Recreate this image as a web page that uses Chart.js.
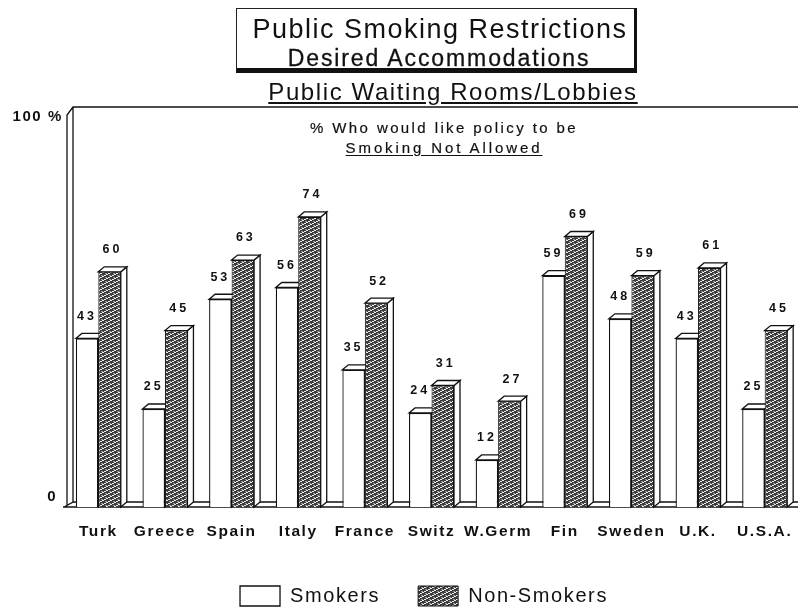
<!DOCTYPE html>
<html>
<head>
<meta charset="utf-8">
<title>Public Smoking Restrictions</title>
<script src="https://cdn.jsdelivr.net/npm/chart.js@4"></script>
<style>
	html, body { margin: 0; background: #fff; }
	#wrap { position: relative; width: 798px; height: 610px; overflow: hidden; font-family: "Liberation Sans", Arial, sans-serif; color: #111; }
	#chart { position: absolute; left: 0; top: 0; }
	.box { position: absolute; left: 236px; top: 8px; width: 397px; height: 59px; border: 1px solid #222; border-bottom: 5px solid #111; border-right: 3px solid #111; }
	.txt { position: absolute; white-space: nowrap; text-align: center; transform: translateX(-50%); }
	.u { text-decoration: underline; text-underline-offset: 2px; }
</style>
</head>
<body>
<div id="wrap">
	<canvas id="chart" width="798" height="610"></canvas>
	<div class="box"></div>
	<div class="txt" style="left:440px;top:14px;font-size:27px;letter-spacing:1.5px">Public Smoking Restrictions</div>
	<div class="txt" style="left:439px;top:45px;font-size:23px;letter-spacing:1.9px;-webkit-text-stroke:0.3px #111">Desired Accommodations</div>
	<div class="txt u" style="left:453px;top:78px;font-size:24px;letter-spacing:1.6px">Public Waiting Rooms/Lobbies</div>
	<div class="txt" style="left:444px;top:119px;font-size:15px;letter-spacing:2.4px;-webkit-text-stroke:0.2px #111">% Who would like policy to be</div>
	<div class="txt u" style="left:444px;top:139px;font-size:15px;letter-spacing:2.9px;-webkit-text-stroke:0.2px #111">Smoking Not Allowed</div>
</div>
<script>
// values
const categories = ["Turk", "Greece", "Spain", "Italy", "France", "Switz", "W.Germ", "Fin", "Sweden", "U.K.", "U.S.A."];
const smokers = [43, 25, 53, 56, 35, 24, 12, 59, 48, 43, 25];
const nonSmokers = [60, 45, 63, 74, 52, 31, 27, 69, 59, 61, 45];
// labels sit a little off the real 0 and 100 in the original
const yTickValues = [2.5, 99.5];
const yTickLabels = ["0 ", "100 %"];

const DEPTH_X = 6;
const DEPTH_Y = 5;
const INK = "#111";

//* Dense diagonal hatch for the non-smokers bars
function makeHatch() {
	const c = document.createElement("canvas");
	c.width = 8;
	c.height = 4;
	const g = c.getContext("2d");
	g.fillStyle = "#3a3a3a";
	g.fillRect(0, 0, 8, 4);
	g.fillStyle = "#eee";
	[[0, 3], [1, 3], [2, 2], [3, 2], [4, 1], [5, 1], [6, 0], [7, 0]].forEach(([x, y]) => g.fillRect(x, y, 1, 1));
	g.fillStyle = "#999";
	[[1, 1], [2, 1], [5, 3], [6, 3]].forEach(([x, y]) => g.fillRect(x, y, 1, 1));
	return document.getElementById("chart").getContext("2d").createPattern(c, "repeat");
}

function poly(ctx, pts) {
	ctx.beginPath();
	pts.forEach(([x, y], i) => (i ? ctx.lineTo(x, y) : ctx.moveTo(x, y)));
	ctx.closePath();
	ctx.fill();
	ctx.stroke();
}

const spacing = {
	id: "spacing",
	beforeLayout(chart) {
		chart.ctx.letterSpacing = "1.6px";
	},
	beforeDraw(chart) {
		chart.ctx.letterSpacing = "1.6px";
	},
	afterLayout(chart) {
		// original legend is off centre and lower
		const shift = 25;
		chart.legend.left += shift;
		chart.legend.right += shift;
		chart.legend.top += 6;
		chart.legend.bottom += 6;
	},
};

//* Back wall, floor and the 3D tops and sides of the bars
const depth = {
	id: "depth",
	beforeDatasetsDraw(chart) {
		const { ctx, chartArea: a } = chart;
		const bx = a.left + 8;
		ctx.save();
		ctx.strokeStyle = INK;
		ctx.lineWidth = 1.3;
		ctx.beginPath();
		ctx.moveTo(a.right, a.top - 8);
		ctx.lineTo(bx, a.top - 8);
		ctx.lineTo(a.left + 2, a.top);
		ctx.lineTo(a.left + 2, a.bottom - 1);
		ctx.moveTo(bx, a.top - 8);
		ctx.lineTo(bx, a.bottom - DEPTH_Y);
		ctx.lineTo(a.left - 1, a.bottom);
		ctx.moveTo(bx, a.bottom - DEPTH_Y);
		ctx.lineTo(a.right, a.bottom - DEPTH_Y);
		ctx.moveTo(a.left - 2, a.bottom);
		ctx.lineTo(a.right, a.bottom);
		ctx.stroke();
		ctx.fillStyle = "#fff";
		chart.data.datasets.forEach((ds, i) => {
			chart.getDatasetMeta(i).data.forEach((bar) => {
				const x0 = bar.x - bar.width / 2;
				const x1 = bar.x + bar.width / 2;
				poly(ctx, [[x1, bar.y], [x1 + DEPTH_X, bar.y - DEPTH_Y], [x1 + DEPTH_X, bar.base - DEPTH_Y], [x1, bar.base]]);
				poly(ctx, [[x0, bar.y], [x0 + DEPTH_X, bar.y - DEPTH_Y], [x1 + DEPTH_X, bar.y - DEPTH_Y], [x1, bar.y]]);
			});
		});
		ctx.restore();
	},
	afterDatasetsDraw(chart) {
		const { ctx } = chart;
		ctx.save();
		ctx.fillStyle = INK;
		ctx.font = "bold 12.5px 'Liberation Sans', Arial, sans-serif";
		ctx.letterSpacing = "3px";
		ctx.textAlign = "center";
		ctx.textBaseline = "middle";
		chart.data.datasets.forEach((ds, i) => {
			chart.getDatasetMeta(i).data.forEach((bar, j) => {
				ctx.fillText(ds.data[j], bar.x + (i ? 3 : 0), bar.y - 22);
			});
		});
		ctx.restore();
	},
};

new Chart(document.getElementById("chart"), {
	type: "bar",
	data: {
		labels: categories,
		datasets: [
			{ label: "Smokers", data: smokers, backgroundColor: "#fff", borderColor: INK, borderWidth: 1.3 },
			{ label: "Non-Smokers", data: nonSmokers, backgroundColor: makeHatch(), borderColor: INK, borderWidth: 1 },
		],
	},
	plugins: [spacing, depth],
	options: {
		responsive: false,
		animation: false,
		layout: { padding: { left: 0, right: 0, top: 115, bottom: 0 } },
		datasets: { bar: { categoryPercentage: 0.675, barPercentage: 1 } },
		plugins: {
			title: { display: false },
			tooltip: { enabled: false },
			legend: {
				position: "bottom",
				labels: {
					color: INK,
					boxWidth: 40,
					boxHeight: 20,
					padding: 38,
					font: { family: "'Liberation Sans', Arial, sans-serif", size: 20 },
				},
			},
		},
		scales: {
			x: {
				grid: { display: false, drawTicks: false },
				border: { display: false },
				ticks: {
					color: INK,
					maxRotation: 0,
					autoSkip: false,
					padding: 15,
					font: { family: "'Liberation Sans', Arial, sans-serif", size: 15.5, weight: "bold" },
				},
				afterFit: (s) => {
					s.height = 35;
					s.paddingLeft = 0;
					s.paddingRight = 0;
				},
			},
			y: {
				min: 0,
				max: 100,
				grid: { display: false, drawTicks: false },
				border: { display: false },
				afterBuildTicks: (s) => { s.ticks = yTickValues.map((value) => ({ value })); },
				afterFit: (s) => { s.width = 65; },
				ticks: {
					color: INK,
					padding: 2,
					font: { family: "'Liberation Sans', Arial, sans-serif", size: 15, weight: "bold" },
					callback: (v, i) => yTickLabels[i],
				},
			},
		},
	},
});
</script>
</body>
</html>
